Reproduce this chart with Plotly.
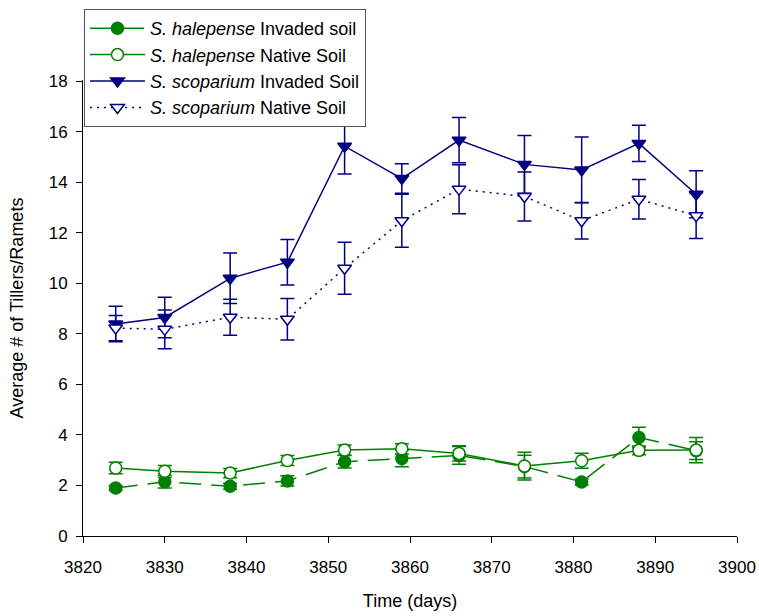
import plotly.graph_objects as go

days = [3824, 3830, 3838, 3845, 3852, 3859, 3866, 3874, 3881, 3888, 3895]

hal_inv = [1.90, 2.15, 1.97, 2.18, 2.94, 3.07, 3.19, 2.75, 2.14, 3.90, 3.38]
hal_inv_err = [0.10, 0.25, 0.12, 0.20, 0.25, 0.33, 0.35, 0.45, 0.12, 0.40, 0.35]
hal_nat = [2.69, 2.56, 2.49, 2.99, 3.40, 3.45, 3.27, 2.77, 2.98, 3.39, 3.40]
hal_nat_err = [0.23, 0.23, 0.18, 0.20, 0.20, 0.20, 0.30, 0.55, 0.30, 0.17, 0.50]

sco_inv = [8.39, 8.65, 10.20, 10.84, 15.43, 14.15, 15.67, 14.71, 14.49, 15.54, 13.53]
sco_inv_err = [0.70, 0.80, 1.00, 0.90, 1.10, 0.58, 0.90, 1.14, 1.30, 0.72, 0.93]
sco_nat = [8.23, 8.18, 8.66, 8.58, 10.60, 12.48, 13.73, 13.44, 12.48, 13.33, 12.68]
sco_nat_err = [0.50, 0.77, 0.71, 0.82, 1.03, 1.05, 0.97, 0.97, 0.72, 0.78, 0.90]

names = [
    "<i>S. halepense</i> Invaded soil",
    "<i>S. halepense</i> Native Soil",
    "<i>S. scoparium</i> Invaded Soil",
    "<i>S. scoparium</i> Native Soil",
]

GREEN = "#008000"
NAVY = "#000080"

fig = go.Figure()

def add(y, err, name, color, symbol, fill, dash):
    fig.add_trace(go.Scatter(
        x=days, y=y, name=name, mode="lines+markers",
        line=dict(color=color, width=1.5, dash=dash),
        marker=dict(symbol=symbol, size=12, color=fill,
                    line=dict(color=color, width=1.5)),
        error_y=dict(type="data", array=err, visible=True,
                     color=color, thickness=1.5, width=7),
    ))

add(hal_inv, hal_inv_err, names[0], GREEN, "circle", GREEN, "22px,10px")
add(hal_nat, hal_nat_err, names[1], GREEN, "circle", "white", "solid")
add(sco_inv, sco_inv_err, names[2], NAVY, "triangle-down", NAVY, "solid")
add(sco_nat, sco_nat_err, names[3], NAVY, "triangle-down", "white", "2px,5px")

font_family = "Liberation Sans, Arial, sans-serif"

W, H = 759, 616
ML, MR, MT, MB = 83, 22, 9, 80
plot_top = 80  # pixel where the y axis ends
paper_h = H - MT - MB

fig.update_layout(
    width=W, height=H,
    margin=dict(l=ML, r=MR, t=MT, b=MB),
    paper_bgcolor="white", plot_bgcolor="white",
    font=dict(family=font_family, size=16, color="black"),
    showlegend=True,
    legend=dict(
        x=0.0015, y=1.0, xanchor="left", yanchor="top",
        bgcolor="white", bordercolor="#555555", borderwidth=1,
        font=dict(size=18, family=font_family, color="black"),
        tracegroupgap=0, itemwidth=55,
    ),
    xaxis=dict(
        range=[3820, 3900], tickmode="linear", tick0=3820, dtick=10,
        showgrid=False, zeroline=False, showline=True, linecolor="black",
        linewidth=1, ticks="outside", ticklen=6, tickcolor="black",
        tickfont=dict(size=17), ticklabelstandoff=10, automargin=False,
        title=dict(text="Time (days)", font=dict(size=18), standoff=17),
    ),
    yaxis=dict(
        domain=[0, (H - MB - plot_top) / paper_h],
        range=[0, 18.05], tickmode="linear", tick0=0, dtick=2,
        showgrid=False, zeroline=False, showline=True, linecolor="black",
        linewidth=1, ticks="outside", ticklen=6, tickcolor="black",
        tickfont=dict(size=17), ticklabelstandoff=5, automargin=False,
        title=dict(text="Average # of Tillers/Ramets", font=dict(size=18), standoff=20),
    ),
)

fig.write_html("out.html", config={"displayModeBar": False},
               post_script="document.body.style.margin='0';")
